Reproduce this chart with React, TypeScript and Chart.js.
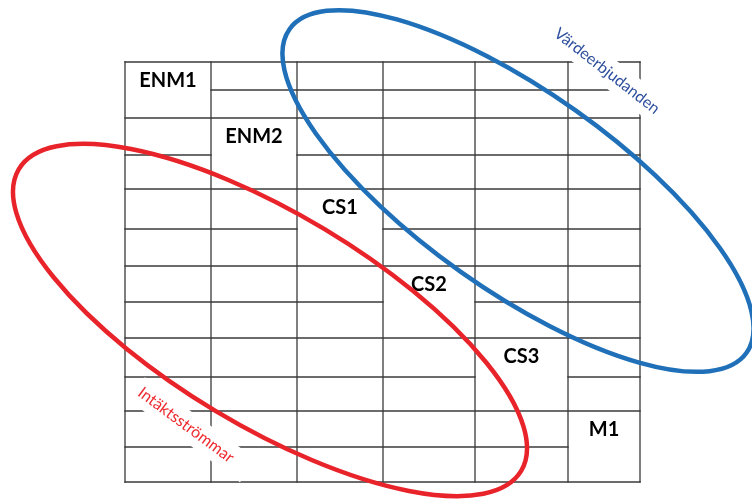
import React, { useEffect, useRef } from 'react';
import { Chart, registerables } from 'chart.js';

Chart.register(...registerables);

// Grid structure (in diagram units, 0..752 x 0..499)
const columnEdges = [125, 211, 297, 383, 475, 568, 640];
const rowEdges = [62, 118, 189, 266, 338, 411, 482];
const rowSplits = [90, 155, 229, 302, 377, 447];
const diagonalLabels = ['ENM1', 'ENM2', 'CS1', 'CS2', 'CS3', 'M1'];

// Ellipses
const ellipseLabels = ['Värdeerbjudanden', 'Intäktsströmmar'];
const ellipseCenterX = [518, 270];
const ellipseCenterY = [191, 320];
const ellipseSemiMajor = [280, 293];
const ellipseSemiMinor = [99, 106];
const ellipseAngleDeg = [35.3, 31];
const ellipseLabelX = [607, 186];
const ellipseLabelY = [71, 425];
const ellipseLabelAngleDeg = [38, 36.5];
const ellipseColors = ['#1f70b8', '#e8232a'];
const ellipseLabelColors = ['#2e4f9e', '#ee2a2f'];

type Pt = { x: number; y: number };

function buildSegments(): Pt[][] {
  const segs: Pt[][] = [];
  const last = columnEdges.length - 1;
  const top = rowEdges[0];
  const bottom = rowEdges[rowEdges.length - 1];
  columnEdges.forEach((x) => segs.push([{ x, y: top }, { x, y: bottom }]));
  rowEdges.forEach((y) => segs.push([{ x: columnEdges[0], y }, { x: columnEdges[last], y }]));
  rowSplits.forEach((y, r) => {
    if (r > 0) segs.push([{ x: columnEdges[0], y }, { x: columnEdges[r], y }]);
    if (r < last - 1) segs.push([{ x: columnEdges[r + 1], y }, { x: columnEdges[last], y }]);
  });
  return segs;
}

const boxPadStart = [10, 4];
const boxPadEnd = [12, 20];

const overlayPlugin = {
  id: 'diagramOverlay',
  afterDatasetsDraw(chart: any) {
    const { ctx } = chart;
    const xs = chart.scales.x;
    const ys = chart.scales.y;
    const px = (v: number) => xs.getPixelForValue(v);
    const py = (v: number) => ys.getPixelForValue(v);
    const sx = Math.abs(px(1) - px(0));
    ctx.save();

    // diagonal labels
    ctx.font = 'bold 20px Lato';
    ctx.fillStyle = '#000';
    ctx.textAlign = 'center';
    ctx.textBaseline = 'middle';
    diagonalLabels.forEach((t, i) => {
      ctx.fillText(t, px((columnEdges[i] + columnEdges[i + 1]) / 2), py(rowEdges[i]) + 18.5);
    });

    // label boxes (white, covering grid lines) and text
    ellipseLabels.forEach((t, i) => {
      ctx.save();
      ctx.translate(px(ellipseLabelX[i]), py(ellipseLabelY[i]));
      ctx.rotate((ellipseLabelAngleDeg[i] * Math.PI) / 180);
      ctx.font = '16px Lato';
      const w = ctx.measureText(t).width;
      ctx.fillStyle = '#fff';
      ctx.fillRect(-w / 2 - boxPadStart[i], -14, w + boxPadStart[i] + boxPadEnd[i], 28);
      ctx.fillStyle = ellipseLabelColors[i];
      ctx.textAlign = 'center';
      ctx.textBaseline = 'middle';
      ctx.fillText(t, 0, 0);
      ctx.restore();
    });

    // ellipses
    ellipseLabels.forEach((_, i) => {
      ctx.beginPath();
      ctx.ellipse(
        px(ellipseCenterX[i]),
        py(ellipseCenterY[i]),
        ellipseSemiMajor[i] * sx,
        ellipseSemiMinor[i] * sx,
        (ellipseAngleDeg[i] * Math.PI) / 180,
        0,
        Math.PI * 2
      );
      ctx.strokeStyle = ellipseColors[i];
      ctx.lineWidth = 4.5;
      ctx.stroke();
    });
    ctx.restore();
  },
};

export default function App() {
  const canvasRef = useRef<HTMLCanvasElement | null>(null);

  useEffect(() => {
    if (!canvasRef.current) return;
    const segments = buildSegments();
    const chart = new Chart(canvasRef.current, {
      type: 'scatter',
      data: {
        datasets: segments.map((seg) => ({
          data: seg,
          showLine: true,
          borderColor: '#3a3a3a',
          borderWidth: 1.3,
          borderCapStyle: 'square',
          pointRadius: 0,
          pointHoverRadius: 0,
          fill: false,
          tension: 0,
        })),
      },
      options: {
        animation: false,
        responsive: true,
        maintainAspectRatio: false,
        layout: { padding: 0 },
        events: [],
        plugins: { legend: { display: false }, tooltip: { enabled: false } },
        scales: {
          x: { type: 'linear', min: 0, max: 752, display: false },
          y: { type: 'linear', min: 0, max: 499, reverse: true, display: false },
        },
      },
      plugins: [overlayPlugin],
    } as any);
    return () => chart.destroy();
  }, []);

  return (
    <div style={{ position: 'absolute', left: 0, top: 0, width: 752, height: 499, background: '#fff' }}>
      <canvas ref={canvasRef} />
    </div>
  );
}
